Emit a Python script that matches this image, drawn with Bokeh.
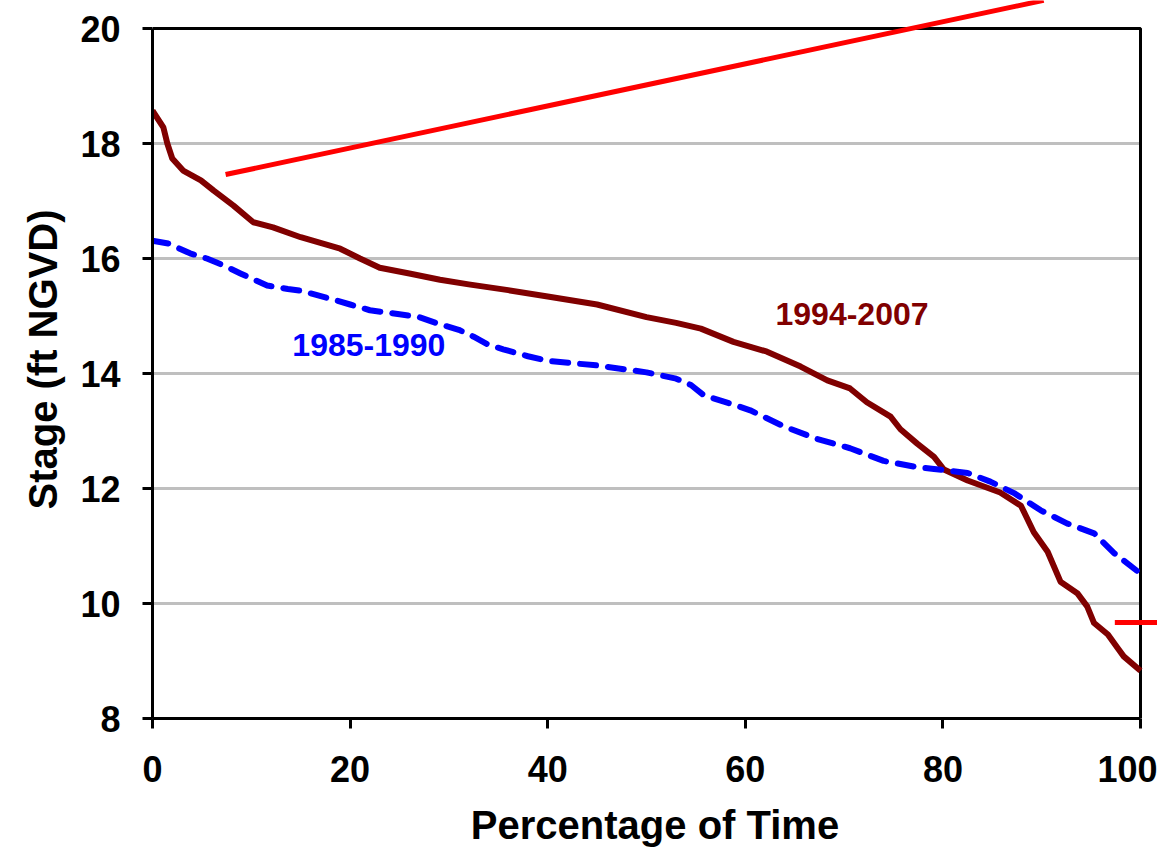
from bokeh.plotting import figure
from bokeh.models import Range1d, FixedTicker
from bokeh.core.properties import value
from bokeh.embed import file_html
from bokeh.resources import INLINE

# ---- data ----
pct_9407 = [0, 1.1, 1.5, 2.0, 3.1, 4.9, 6.2, 8.2, 10.2, 12.2, 15.0, 19.0, 21.0, 23.0,
            26.0, 29.1, 32.0, 36.0, 40.0, 45.0, 50.0, 53.0, 55.5, 58.8, 62.2, 65.6,
            68.3, 70.6, 72.3, 74.7, 75.7, 77.4, 79.1, 80.1, 82.5, 85.8, 87.9, 89.2,
            90.6, 91.9, 93.6, 94.6, 95.3, 96.7, 97.7, 98.3, 100.0]
stage_9407 = [18.57, 18.28, 18.0, 17.74, 17.53, 17.36, 17.18, 16.92, 16.63, 16.54, 16.37,
              16.17, 16.0, 15.84, 15.74, 15.63, 15.55, 15.45, 15.34, 15.2, 14.98, 14.88,
              14.78, 14.55, 14.38, 14.12, 13.88, 13.74, 13.50, 13.25, 13.03, 12.78, 12.55,
              12.33, 12.14, 11.93, 11.70, 11.24, 10.90, 10.38, 10.18, 9.95, 9.66, 9.46,
              9.22, 9.08, 8.83]

pct_8590 = [0, 1.6, 3.8, 5.5, 7.2, 8.9, 11.6, 13.7, 15.0, 18.0, 20.0, 22.0, 25.0, 27.0,
            29.0, 31.0, 32.5, 34.0, 35.5, 38.0, 40.0, 45.0, 50.0, 53.0, 54.5, 55.8, 58.8,
            60.5, 63.9, 67.3, 70.6, 74.0, 77.4, 79.1, 82.5, 84.8, 87.2, 89.9, 92.6, 95.3,
            97.3, 100.0]
stage_8590 = [16.31, 16.26, 16.09, 16.0, 15.88, 15.74, 15.53, 15.47, 15.44, 15.3, 15.2,
              15.1, 15.03, 14.98, 14.86, 14.76, 14.64, 14.5, 14.42, 14.30, 14.22, 14.14,
              14.02, 13.91, 13.8, 13.62, 13.46, 13.36, 13.08, 12.86, 12.70, 12.48, 12.37,
              12.34, 12.27, 12.12, 11.92, 11.62, 11.39, 11.22, 10.88, 10.52]

x_ticks = [0, 20, 40, 60, 80, 100]
y_ticks = [8, 10, 12, 14, 16, 18, 20]
grid_levels = [10, 12, 14, 16, 18]

label_text = ["1994-2007", "1985-1990"]
label_x = [70.8, 21.9]
label_y = [15.04, 14.49]
label_color = ["#800000", "#0000FF"]

red1_x = [7.4, 90.2]
red1_y = [17.46, 20.49]
red2_x = [97.4, 103.0]
red2_y = [9.67, 9.67]

x_title = "Percentage of Time"
y_title = "Stage (ft NGVD)"

FONT = "Liberation Sans"

p = figure(width=1157, height=850, output_backend="svg", toolbar_location=None,
           x_range=Range1d(0, 101.72), y_range=Range1d(8, 20.487),
           min_border_left=152, min_border_right=0, min_border_top=0,
           min_border_bottom=132)
p.outline_line_color = None
p.xgrid.visible = False
p.ygrid.visible = False
p.background_fill_color = "white"
p.border_fill_color = "white"

# grid lines, limited to the plotted box
p.segment(x0=[x_ticks[0]] * len(grid_levels), y0=grid_levels,
          x1=[x_ticks[-1]] * len(grid_levels), y1=grid_levels,
          line_color="#BFBFBF", line_width=3)

# top and right border of the box
p.line(x=[x_ticks[0], x_ticks[-1], x_ticks[-1]], y=[y_ticks[-1], y_ticks[-1], y_ticks[0]],
       line_color="black", line_width=3)

# series
p.line(pct_9407, stage_9407, line_color="#800000", line_width=6, line_join="round")
p.line(pct_8590, stage_8590, line_color="#0000FF", line_width=6, line_dash="16 12",
       line_cap="round", line_join="round")

# labels
p.text(x=label_x, y=label_y, text=label_text, text_color=label_color,
       text_font=value(FONT), text_font_style="bold", text_font_size="32px",
       text_align="center", text_baseline="middle")

# red annotation lines
p.line(red1_x, red1_y, line_color="#FF0000", line_width=5)
p.line(red2_x, red2_y, line_color="#FF0000", line_width=5)

# axes
for ax in (p.xaxis[0], p.yaxis[0]):
    ax.axis_line_width = 3
    ax.axis_line_color = "black"
    ax.major_tick_line_width = 3
    ax.major_tick_line_color = "black"
    ax.major_tick_out = 10
    ax.major_tick_in = 0
    ax.minor_tick_line_color = None
    ax.major_label_text_font = FONT
    ax.major_label_text_font_style = "bold"
    ax.major_label_text_font_size = "36px"
    ax.major_label_text_color = "black"
    ax.axis_label_text_font = FONT
    ax.axis_label_text_font_style = "bold"
    ax.axis_label_text_font_size = "40px"
    ax.axis_label_text_color = "black"

p.xaxis.ticker = FixedTicker(ticks=x_ticks)
p.yaxis.ticker = FixedTicker(ticks=y_ticks)
p.xaxis.bounds = (x_ticks[0], x_ticks[-1])
p.yaxis.bounds = (y_ticks[0], y_ticks[-1])
p.xaxis.axis_label = x_title
p.yaxis.axis_label = y_title
p.xaxis.major_label_standoff = 27
p.xaxis.axis_label_standoff = 18
p.yaxis.major_label_standoff = 22
p.yaxis.axis_label_standoff = 12

open("out.html", "w").write(file_html(p, INLINE))
